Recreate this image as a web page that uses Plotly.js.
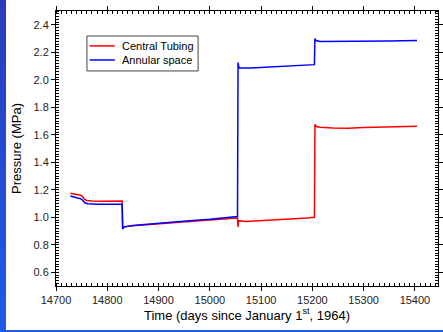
<!DOCTYPE html>
<html>
<head>
<meta charset="utf-8">
<script src="https://cdn.plot.ly/plotly-3.0.1.min.js"></script>
<style>
html,body{margin:0;padding:0;background:#fff;}
#wrap{position:relative;width:443px;height:332px;overflow:hidden;}
#chart{width:443px;height:332px;}
#lstrip{position:absolute;left:0;top:0;width:6px;height:332px;background:linear-gradient(#2b3cbc,#1d5ce8);pointer-events:none;}
#bstrip{position:absolute;left:0;bottom:0;width:443px;height:2px;background:#1d5ce8;pointer-events:none;}
</style>
</head>
<body>
<div id="wrap">
<div id="chart"></div>
<div id="lstrip"></div>
<div id="bstrip"></div>
</div>
<script>
// Central Tubing
const tubingDays = [14728,14735,14742,14748,14752,14756,14760,14770,14790,14810,14829,14830,14833,14850,14880,14920,14960,15000,15030,15054,15055,15056,15070,15100,15130,15160,15190,15204,15205,15208,15215,15240,15270,15300,15330,15360,15404];
const tubingP    = [1.175,1.17,1.165,1.16,1.15,1.13,1.122,1.118,1.117,1.115,1.118,0.925,0.93,0.938,0.948,0.96,0.97,0.98,0.99,0.995,0.93,0.975,0.97,0.975,0.98,0.985,0.995,1.0,1.675,1.66,1.655,1.65,1.648,1.652,1.655,1.66,1.662];
// Annular space
const annularDays = [14728,14735,14742,14748,14752,14756,14762,14780,14810,14829,14830,14833,14850,14880,14920,14960,15000,15030,15054,15055,15057,15080,15110,15140,15170,15200,15204,15205,15207,15215,15250,15300,15350,15404];
const annularP    = [1.155,1.145,1.14,1.135,1.125,1.105,1.098,1.095,1.095,1.095,0.915,0.93,0.94,0.95,0.965,0.975,0.985,0.995,1.005,2.125,2.085,2.085,2.09,2.095,2.1,2.108,2.11,2.3,2.285,2.278,2.278,2.28,2.282,2.285];
const seriesNames = ["Central Tubing","Annular space"];
const seriesColors = ["#ff0000","#0000ff"];
const xTitle = "Time (days since January 1<sup>st</sup>, 1964)";
const yTitle = "Pressure (MPa)";

const font = {family:"Liberation Sans, Arial, sans-serif", color:"#000"};
const traces = [
  {x:tubingDays, y:tubingP, name:seriesNames[0], mode:"lines", line:{color:seriesColors[0], width:1.5}},
  {x:annularDays, y:annularP, name:seriesNames[1], mode:"lines", line:{color:seriesColors[1], width:1.5}}
];
const axisCommon = {
  showline:true, linecolor:"#000", linewidth:1, mirror:"ticks",
  ticks:"outside", ticklen:4, tickcolor:"#000", showgrid:false, zeroline:false,
  tickfont:{...font, size:11, color:"#222"}
};

// compact legend (box + samples + labels) in paper coordinates
const legendBox = {x0:0.081, x1:0.372, y0:0.782, y1:0.909};
const legendRowsY = [0.873, 0.822];
const shapes = [
  {type:"rect", xref:"paper", yref:"paper", x0:legendBox.x0, x1:legendBox.x1, y0:legendBox.y0, y1:legendBox.y1,
   line:{color:"#444", width:1}, fillcolor:"#fff", layer:"above"}
];
const annotations = [];
seriesNames.forEach((n,i)=>{
  shapes.push({type:"line", xref:"paper", yref:"paper", x0:0.088, x1:0.154, y0:legendRowsY[i], y1:legendRowsY[i],
               line:{color:seriesColors[i], width:1.5}, layer:"above"});
  annotations.push({xref:"paper", yref:"paper", x:0.168, y:legendRowsY[i], xanchor:"left", yanchor:"middle",
                    text:n, showarrow:false, font:{...font, size:11}});
});

const layout = {
  width:443, height:332,
  margin:{l:56, r:5, t:11, b:46},
  paper_bgcolor:"#fff", plot_bgcolor:"#fff",
  font:font,
  showlegend:false,
  shapes:shapes, annotations:annotations,
  xaxis:{...axisCommon, range:[14700,15445], dtick:100, tick0:14700, tickformat:"d",
         minor:{dtick:10, ticks:"inside", ticklen:3, tickcolor:"#000"},
         title:{text:xTitle, font:{...font, size:13}, standoff:5}},
  yaxis:{...axisCommon, range:[0.5,2.5], dtick:0.2, tick0:0, tickformat:".1f",
         minor:{dtick:0.02, ticks:"inside", ticklen:3, tickcolor:"#000"},
         title:{text:yTitle, font:{...font, size:13}, standoff:8}}
};
Plotly.newPlot("chart", traces, layout, {displayModeBar:false, staticPlot:true});
</script>
</body>
</html>
